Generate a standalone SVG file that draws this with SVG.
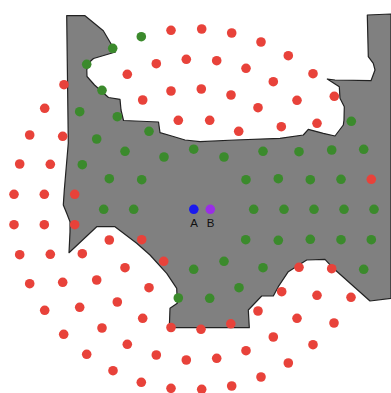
<svg xmlns="http://www.w3.org/2000/svg" width="391" height="393" viewBox="0 0 391 393">
<style>
.r{fill:#e8423a}
.g{fill:#3b8a2c}
.lbl{font-family:"Liberation Sans",Arial,sans-serif;font-size:11.5px;fill:#111;text-anchor:middle}
</style>
<rect width="391" height="393" fill="#fff"/>
<g id="region">
<path d="M66.7,15.5 L85,15.7 L103.3,30.7 L111.7,45 L115.5,52 L93.5,58.5 L88.3,63.3 L86.8,70 L87,76.5 L94.5,85 L108.5,97.5 L120,99.3 L121,110 L123.5,120.5 L158.5,122 L160,132.7 L171.7,136 L185,140 L200,141.7 L235,140 L280,138.3 L303.3,135 L308.3,129.3 L323.3,133.3 L335,136 L343.3,125 L344,120 L344.3,106.7 L340,98.3 L339.3,86.7 L327.3,79 L335,80 L371,80.7 L375,70 L373.3,63.3 L368.3,56.7 L367.3,15 L391,14 L391,298.3 L370,301 L333.3,268.3 L325,259.3 L306.7,260 L288.3,271.7 L278.3,286.7 L273.3,296 L261.7,296 L248.3,310 L249.3,327.7 L169.3,327.7 L170,308.3 L177.3,303.3 L176.7,288.3 L166.7,273.3 L150,255 L136.7,243.3 L115,226.7 L96.7,226.7 L69,252.7 L70,232 L70,221.7 L66.7,213.3 L63.3,205 L64.3,190 L68.3,143 Z" fill="#808080" stroke="#222" stroke-width="1.2" stroke-linejoin="round"/>
</g>
<g id="red-dots">
<circle class="r" cx="171" cy="30.3" r="4.8"/>
<circle class="r" cx="201.7" cy="29" r="4.8"/>
<circle class="r" cx="231.7" cy="33" r="4.8"/>
<circle class="r" cx="261" cy="42" r="4.8"/>
<circle class="r" cx="288.3" cy="55.7" r="4.8"/>
<circle class="r" cx="313" cy="73.7" r="4.8"/>
<circle class="r" cx="334.3" cy="96.3" r="4.8"/>
<circle class="r" cx="156.3" cy="63.7" r="4.8"/>
<circle class="r" cx="186.3" cy="59.3" r="4.8"/>
<circle class="r" cx="216.7" cy="60.7" r="4.8"/>
<circle class="r" cx="246" cy="68.3" r="4.8"/>
<circle class="r" cx="273.3" cy="81.7" r="4.8"/>
<circle class="r" cx="297" cy="100.3" r="4.8"/>
<circle class="r" cx="317" cy="123.3" r="4.8"/>
<circle class="r" cx="127.3" cy="74.3" r="4.8"/>
<circle class="r" cx="171" cy="91" r="4.8"/>
<circle class="r" cx="201.3" cy="89" r="4.8"/>
<circle class="r" cx="231" cy="95" r="4.8"/>
<circle class="r" cx="258" cy="107.7" r="4.8"/>
<circle class="r" cx="281.3" cy="126.7" r="4.8"/>
<circle class="r" cx="142.7" cy="100" r="4.8"/>
<circle class="r" cx="178.3" cy="120.3" r="4.8"/>
<circle class="r" cx="209.7" cy="120.3" r="4.8"/>
<circle class="r" cx="238.7" cy="131.3" r="4.8"/>
<circle class="r" cx="64" cy="84.7" r="4.8"/>
<circle class="r" cx="44.7" cy="108.3" r="4.8"/>
<circle class="r" cx="29.7" cy="135" r="4.8"/>
<circle class="r" cx="62.7" cy="136.3" r="4.8"/>
<circle class="r" cx="19.7" cy="164" r="4.8"/>
<circle class="r" cx="50.3" cy="164.3" r="4.8"/>
<circle class="r" cx="14" cy="194.3" r="4.8"/>
<circle class="r" cx="44.3" cy="194.3" r="4.8"/>
<circle class="r" cx="74.7" cy="194.3" r="4.8"/>
<circle class="r" cx="14" cy="224.7" r="4.8"/>
<circle class="r" cx="44.3" cy="224.7" r="4.8"/>
<circle class="r" cx="74.7" cy="224.7" r="4.8"/>
<circle class="r" cx="109.3" cy="240" r="4.8"/>
<circle class="r" cx="141.7" cy="239.7" r="4.8"/>
<circle class="r" cx="19.7" cy="254.7" r="4.8"/>
<circle class="r" cx="50.3" cy="254.3" r="4.8"/>
<circle class="r" cx="82.3" cy="253.7" r="4.8"/>
<circle class="r" cx="163.7" cy="261.3" r="4.8"/>
<circle class="r" cx="125" cy="267.7" r="4.8"/>
<circle class="r" cx="29.7" cy="283.7" r="4.8"/>
<circle class="r" cx="62.7" cy="282.3" r="4.8"/>
<circle class="r" cx="96.7" cy="280" r="4.8"/>
<circle class="r" cx="149" cy="287.7" r="4.8"/>
<circle class="r" cx="117.3" cy="302" r="4.8"/>
<circle class="r" cx="44.7" cy="310.3" r="4.8"/>
<circle class="r" cx="79.7" cy="307.3" r="4.8"/>
<circle class="r" cx="142.7" cy="318.3" r="4.8"/>
<circle class="r" cx="171" cy="327.5" r="4.8"/>
<circle class="r" cx="201" cy="329.3" r="4.8"/>
<circle class="r" cx="230.8" cy="323.8" r="4.8"/>
<circle class="r" cx="63.7" cy="334.3" r="4.8"/>
<circle class="r" cx="102" cy="328" r="4.8"/>
<circle class="r" cx="127.3" cy="344.3" r="4.8"/>
<circle class="r" cx="86.7" cy="354.3" r="4.8"/>
<circle class="r" cx="156.3" cy="355" r="4.8"/>
<circle class="r" cx="186.3" cy="360" r="4.8"/>
<circle class="r" cx="113" cy="370.7" r="4.8"/>
<circle class="r" cx="141.3" cy="382.3" r="4.8"/>
<circle class="r" cx="171" cy="388.3" r="4.8"/>
<circle class="r" cx="201.7" cy="389.3" r="4.8"/>
<circle class="r" cx="231.7" cy="386" r="4.8"/>
<circle class="r" cx="261" cy="377" r="4.8"/>
<circle class="r" cx="288.3" cy="363" r="4.8"/>
<circle class="r" cx="313" cy="344.7" r="4.8"/>
<circle class="r" cx="246" cy="350.7" r="4.8"/>
<circle class="r" cx="216.7" cy="358.3" r="4.8"/>
<circle class="r" cx="273.3" cy="337" r="4.8"/>
<circle class="r" cx="297" cy="318.3" r="4.8"/>
<circle class="r" cx="334" cy="323" r="4.8"/>
<circle class="r" cx="258" cy="311" r="4.8"/>
<circle class="r" cx="281.7" cy="291.7" r="4.8"/>
<circle class="r" cx="317" cy="295.3" r="4.8"/>
<circle class="r" cx="351" cy="297.3" r="4.8"/>
<circle class="r" cx="299" cy="267.3" r="4.8"/>
<circle class="r" cx="331.7" cy="268.7" r="4.8"/>
<circle class="r" cx="371.3" cy="179.3" r="4.8"/>
</g>
<g id="green-dots">
<circle class="g" cx="141.3" cy="36.7" r="4.8"/>
<circle class="g" cx="112.7" cy="48.3" r="4.8"/>
<circle class="g" cx="86.7" cy="64.3" r="4.8"/>
<circle class="g" cx="102" cy="90.3" r="4.8"/>
<circle class="g" cx="79.7" cy="111.7" r="4.8"/>
<circle class="g" cx="117.3" cy="116.7" r="4.8"/>
<circle class="g" cx="149" cy="131.3" r="4.8"/>
<circle class="g" cx="96.7" cy="139" r="4.8"/>
<circle class="g" cx="125" cy="151.3" r="4.8"/>
<circle class="g" cx="164" cy="157" r="4.8"/>
<circle class="g" cx="193.7" cy="149.2" r="4.8"/>
<circle class="g" cx="224" cy="157" r="4.8"/>
<circle class="g" cx="263" cy="151.3" r="4.8"/>
<circle class="g" cx="299" cy="151.7" r="4.8"/>
<circle class="g" cx="331.7" cy="150" r="4.8"/>
<circle class="g" cx="363.7" cy="149.3" r="4.8"/>
<circle class="g" cx="351.3" cy="121.3" r="4.8"/>
<circle class="g" cx="82.3" cy="164.7" r="4.8"/>
<circle class="g" cx="109.3" cy="178.7" r="4.8"/>
<circle class="g" cx="141.7" cy="179.7" r="4.8"/>
<circle class="g" cx="246" cy="179.7" r="4.8"/>
<circle class="g" cx="278.3" cy="178.7" r="4.8"/>
<circle class="g" cx="310.3" cy="179.7" r="4.8"/>
<circle class="g" cx="341" cy="179.3" r="4.8"/>
<circle class="g" cx="103.7" cy="209.3" r="4.8"/>
<circle class="g" cx="133.7" cy="209.3" r="4.8"/>
<circle class="g" cx="253.7" cy="209.3" r="4.8"/>
<circle class="g" cx="284" cy="209.3" r="4.8"/>
<circle class="g" cx="314" cy="209.3" r="4.8"/>
<circle class="g" cx="344" cy="209.3" r="4.8"/>
<circle class="g" cx="374" cy="209.3" r="4.8"/>
<circle class="g" cx="245.7" cy="239.7" r="4.8"/>
<circle class="g" cx="278.3" cy="240.3" r="4.8"/>
<circle class="g" cx="310.3" cy="239.3" r="4.8"/>
<circle class="g" cx="341" cy="239.7" r="4.8"/>
<circle class="g" cx="371.3" cy="239.7" r="4.8"/>
<circle class="g" cx="224" cy="261.3" r="4.8"/>
<circle class="g" cx="193.7" cy="269.3" r="4.8"/>
<circle class="g" cx="263" cy="267.7" r="4.8"/>
<circle class="g" cx="363.7" cy="269.3" r="4.8"/>
<circle class="g" cx="239" cy="287.7" r="4.8"/>
<circle class="g" cx="209.7" cy="298.3" r="4.8"/>
<circle class="g" cx="178.3" cy="298" r="4.8"/>
</g>
<g id="A">
<circle cx="193.8" cy="209.3" r="4.8" fill="#1a1aee"/>
<text class="lbl" x="194" y="227">A</text>
</g>
<g id="B">
<circle cx="210.3" cy="209.3" r="4.8" fill="#9a2ee6"/>
<text class="lbl" x="210.5" y="227">B</text>
</g>
</svg>
